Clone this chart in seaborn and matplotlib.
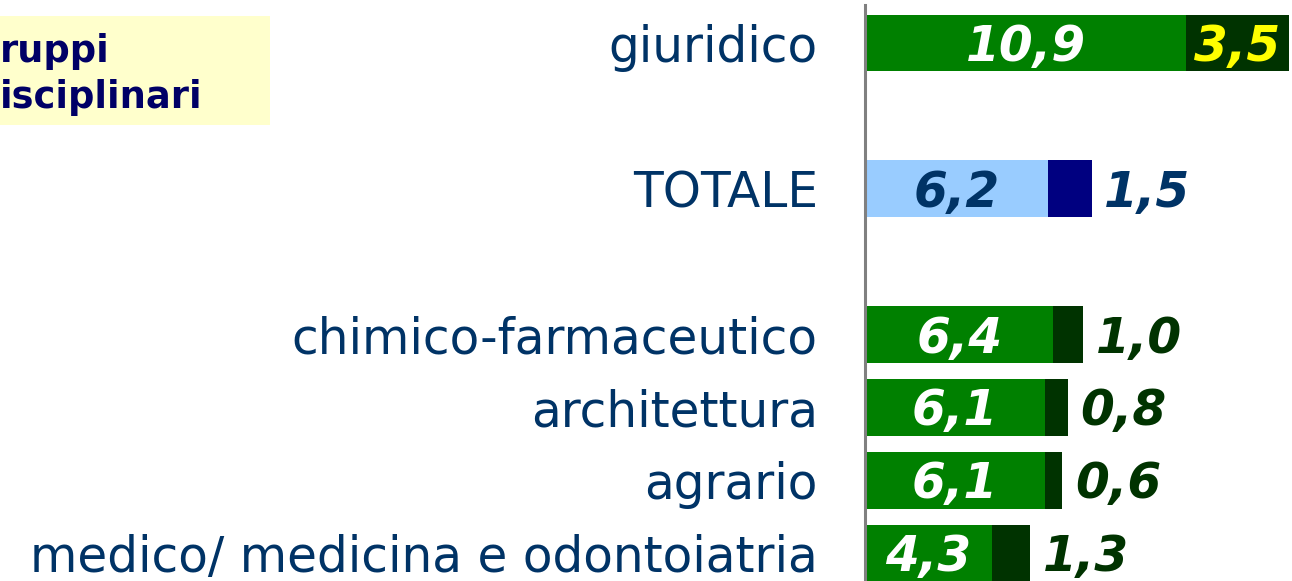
import matplotlib
matplotlib.use("Agg")
import matplotlib.pyplot as plt
import seaborn as sns
import pandas as pd
from matplotlib.patches import Rectangle

# ---- data ----
categories = ["giuridico", "TOTALE", "chimico-farmaceutico", "architettura",
              "agrario", "medico/ medicina e odontoiatria"]
first_values = [10.9, 6.2, 6.4, 6.1, 6.1, 4.3]
second_values = [3.5, 1.5, 1.0, 0.8, 0.6, 1.3]
box_title_lines = ["ruppi", "isciplinari"]

# ---- styles ----
light_col = {c: "#008000" for c in categories}
light_col["TOTALE"] = "#99CCFF"
dark_col = {c: "#003300" for c in categories}
dark_col["TOTALE"] = "#000080"
inner_txt = {c: "white" for c in categories}
inner_txt["TOTALE"] = "#003366"
outer_txt = {c: "#003300" for c in categories}
outer_txt["TOTALE"] = "#003366"

# order with blank spacer slots between groups
order = [categories[0], " ", categories[1], "  "] + categories[2:]

df = pd.DataFrame({"cat": categories, "first": first_values,
                   "second": second_values})
df["total"] = df["first"] + df["second"]

sns.set_theme(style="white")
plt.rcParams["font.family"] = ["DejaVu Sans"]

fig = plt.figure(figsize=(12.92, 5.81), dpi=100)
ax = fig.add_axes([865 / 1292, 0, 427 / 1292, 576 / 581])

sns.barplot(data=df, y="cat", x="total", order=order, hue="cat",
            palette=dark_col, legend=False, width=0.78, ax=ax,
            saturation=1, linewidth=0, orient="h")
sns.barplot(data=df, y="cat", x="first", order=order, hue="cat",
            palette=light_col, legend=False, width=0.78, ax=ax,
            saturation=1, linewidth=0, orient="h")

ax.set_xlim(0, 14.5)
ax.set_ylim(7.384, -0.521)
ax.set_xlabel("")
ax.set_ylabel("")
ax.set_xticks([])
for s in ["top", "right", "bottom"]:
    ax.spines[s].set_visible(False)
ax.spines["left"].set_color("#808080")
ax.spines["left"].set_linewidth(2.2)
ax.tick_params(axis="y", length=0, pad=34, labelsize=35,
               labelcolor="#003366")
ax.set_yticks(range(len(order)))
ax.set_yticklabels(order)

# value labels
lbl = dict(fontsize=35, fontweight="bold", style="italic", va="center",
           textcoords="offset points")
for c, f, s in zip(categories, first_values, second_values):
    y = order.index(c)
    fs = f"{f:.1f}".replace(".", ",")
    ss = f"{s:.1f}".replace(".", ",")
    ax.annotate(fs, (f / 2, y), xytext=(0, -3), ha="center",
                color=inner_txt[c], **lbl)
    if c == "giuridico":
        ax.annotate(ss, (f + s / 2, y), xytext=(0, -3), ha="center",
                    color="#FFFF00", **lbl)
    else:
        ax.annotate(ss, (f + s, y), xytext=(9, -3), ha="left",
                    color=outer_txt[c], **lbl)

# title box (partially cropped on the left)
fig.patches.append(Rectangle((0, 1 - 125 / 581), 270 / 1292, 109 / 581,
                             transform=fig.transFigure, facecolor="#FFFFCC",
                             edgecolor="none", zorder=0))
fig.text(0 / 1292, 1 - 62 / 581, box_title_lines[0], ha="left", va="baseline",
         fontsize=26.5, fontweight="bold", color="#000066")
fig.text(0 / 1292, 1 - 108 / 581, box_title_lines[1], ha="left", va="baseline",
         fontsize=26.5, fontweight="bold", color="#000066")

fig.savefig("out.png", dpi=100)
